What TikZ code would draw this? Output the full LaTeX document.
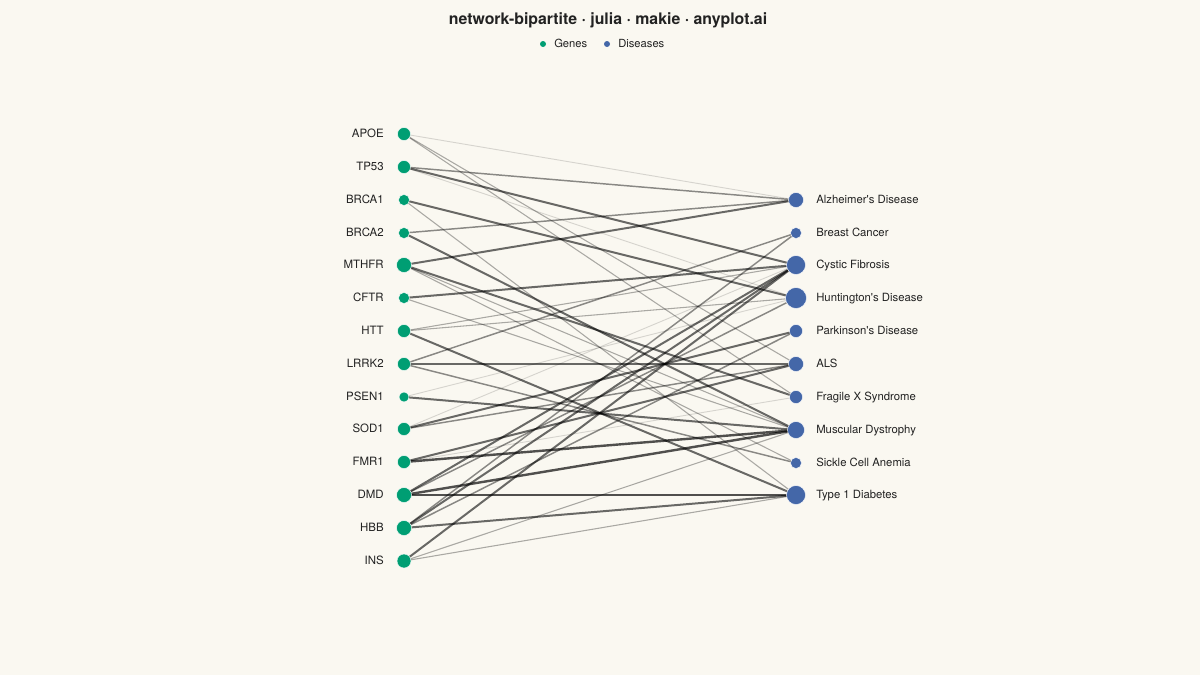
\documentclass[tikz,border=0pt]{standalone}
\usepackage{fontspec}
\setmainfont{TeX Gyre Heros}
\definecolor{bgC}{HTML}{FAF8F1}
\definecolor{geneC}{HTML}{009E73}
\definecolor{disC}{HTML}{4467A8}
\definecolor{txtC}{HTML}{222222}
\pgfdeclarelayer{bgl}
\pgfdeclarelayer{edgel}
\pgfsetlayers{bgl,edgel,main}
\begin{document}
\begin{tikzpicture}[x=0.75pt,y=-0.75pt,
  gene/.style={circle, fill=geneC, draw=white, line width=0.3pt, inner sep=0pt},
  dis/.style={circle, fill=disC, draw=white, line width=0.3pt, inner sep=0pt},
  glab/.style={anchor=mid east, inner sep=0pt, text=txtC, font=\fontsize{8.6}{10}\selectfont},
  dlab/.style={anchor=mid west, inner sep=0pt, text=txtC, font=\fontsize{8.5}{10}\selectfont},
  leg/.style={anchor=mid west, inner sep=0pt, text=txtC, font=\fontsize{8.4}{10}\selectfont},
  lnk/.style={draw=black, line cap=round},
  w1/.style={lnk, draw opacity=0.14, line width=0.7pt},
  w2/.style={lnk, draw opacity=0.32, line width=0.8pt},
  w3/.style={lnk, draw opacity=0.45, line width=1.1pt},
  w4/.style={lnk, draw opacity=0.58, line width=1.5pt},
  w5/.style={lnk, draw opacity=0.68, line width=1.8pt}
]
\begin{pgfonlayer}{bgl}
\fill[bgC] (0,0) rectangle (1200,675);
\end{pgfonlayer}
\useasboundingbox (0,0) rectangle (1200,675);

% title and legend
\node[text=txtC, font=\bfseries\fontsize{11.9}{14}\selectfont] (title) at (608,20) {network-bipartite · julia · makie · anyplot.ai};
\node[circle, fill=geneC, inner sep=0pt, minimum size=4.5pt] (lg) at (543,44) {};
\node[leg] (lgt) at (554,44) {Genes};
\node[circle, fill=disC, inner sep=0pt, minimum size=4.5pt] (ld) at (607,44) {};
\node[leg] (ldt) at (618,44) {Diseases};

% genes
\node[gene, minimum size=9.75pt] (apoe) at (404,134) {};
\node[gene, minimum size=9.75pt] (tp53) at (404,167) {};
\node[gene, minimum size=8.25pt] (brca1) at (404,200) {};
\node[gene, minimum size=8.25pt] (brca2) at (404,233) {};
\node[gene, minimum size=11.25pt] (mthfr) at (404,265) {};
\node[gene, minimum size=8.25pt] (cftr) at (404,298) {};
\node[gene, minimum size=9.75pt] (htt) at (404,331) {};
\node[gene, minimum size=9.75pt] (lrrk2) at (404,364) {};
\node[gene, minimum size=7.5pt] (psen1) at (404,397) {};
\node[gene, minimum size=9.75pt] (sod1) at (404,429) {};
\node[gene, minimum size=9.75pt] (fmr1) at (404,462) {};
\node[gene, minimum size=11.25pt] (dmd) at (404,495) {};
\node[gene, minimum size=11.25pt] (hbb) at (404,528) {};
\node[gene, minimum size=10.5pt] (ins) at (404,561) {};

\node[glab] (apoeL) at (384,134) {APOE};
\node[glab] (tp53L) at (384,167) {TP53};
\node[glab] (brca1L) at (384,200) {BRCA1};
\node[glab] (brca2L) at (384,233) {BRCA2};
\node[glab] (mthfrL) at (384,265) {MTHFR};
\node[glab] (cftrL) at (384,298) {CFTR};
\node[glab] (httL) at (384,331) {HTT};
\node[glab] (lrrk2L) at (384,364) {LRRK2};
\node[glab] (psen1L) at (384,397) {PSEN1};
\node[glab] (sod1L) at (384,429) {SOD1};
\node[glab] (fmr1L) at (384,462) {FMR1};
\node[glab] (dmdL) at (384,495) {DMD};
\node[glab] (hbbL) at (384,528) {HBB};
\node[glab] (insL) at (384,561) {INS};

% diseases
\node[dis, minimum size=11.25pt] (alz) at (796,200) {};
\node[dis, minimum size=8.25pt] (bc) at (796,233) {};
\node[dis, minimum size=14.25pt] (cf) at (796,265) {};
\node[dis, minimum size=15.75pt] (hd) at (796,298) {};
\node[dis, minimum size=9.75pt] (pd) at (796,331) {};
\node[dis, minimum size=11.25pt] (als) at (796,364) {};
\node[dis, minimum size=9.75pt] (fxs) at (796,397) {};
\node[dis, minimum size=12.75pt] (md) at (796,430) {};
\node[dis, minimum size=8.25pt] (sca) at (796,463) {};
\node[dis, minimum size=14.25pt] (t1d) at (796,495) {};

\node[dlab] (alzL) at (816,200) {Alzheimer\textquotesingle s Disease};
\node[dlab] (bcL) at (816,233) {Breast Cancer};
\node[dlab] (cfL) at (816,265) {Cystic Fibrosis};
\node[dlab] (hdL) at (816,298) {Huntington\textquotesingle s Disease};
\node[dlab] (pdL) at (816,331) {Parkinson\textquotesingle s Disease};
\node[dlab] (alsL) at (816,364) {ALS};
\node[dlab] (fxsL) at (816,397) {Fragile X Syndrome};
\node[dlab] (mdL) at (816,430) {Muscular Dystrophy};
\node[dlab] (scaL) at (816,463) {Sickle Cell Anemia};
\node[dlab] (t1dL) at (816,495) {Type 1 Diabetes};

% edges
\begin{pgfonlayer}{edgel}
\draw[w1] (apoe) -- (alz);
\draw[w2] (apoe) -- (als);
\draw[w2] (apoe) -- (fxs);
\draw[w3] (tp53) -- (alz);
\draw[w4] (tp53) -- (cf);
\draw[w1] (tp53) -- (hd);
\draw[w4] (brca1) -- (hd);
\draw[w2] (brca1) -- (t1d);
\draw[w3] (brca2) -- (alz);
\draw[w4] (brca2) -- (md);
\draw[w4] (mthfr) -- (alz);
\draw[w4] (mthfr) -- (fxs);
\draw[w2] (mthfr) -- (md);
\draw[w2] (mthfr) -- (sca);
\draw[w4] (cftr) -- (cf);
\draw[w2] (cftr) -- (md);
\draw[w2] (htt) -- (cf);
\draw[w2] (htt) -- (hd);
\draw[w4] (htt) -- (t1d);
\draw[w3] (lrrk2) -- (bc);
\draw[w4] (lrrk2) -- (als);
\draw[w3] (lrrk2) -- (sca);
\draw[w4] (psen1) -- (md);
\draw[w1] (psen1) -- (hd);
\draw[w4] (sod1) -- (pd);
\draw[w3] (sod1) -- (als);
\draw[w1] (sod1) -- (cf);
\draw[w4] (fmr1) -- (als);
\draw[w5] (fmr1) -- (md);
\draw[w1] (fmr1) -- (fxs);
\draw[w4] (dmd) -- (cf);
\draw[w3] (dmd) -- (hd);
\draw[w5] (dmd) -- (md);
\draw[w5] (dmd) -- (t1d);
\draw[w3] (hbb) -- (bc);
\draw[w4] (hbb) -- (cf);
\draw[w3] (hbb) -- (pd);
\draw[w4] (hbb) -- (t1d);
\draw[w4] (ins) -- (cf);
\draw[w2] (ins) -- (md);
\draw[w2] (ins) -- (t1d);
\end{pgfonlayer}
\end{tikzpicture}
\end{document}
